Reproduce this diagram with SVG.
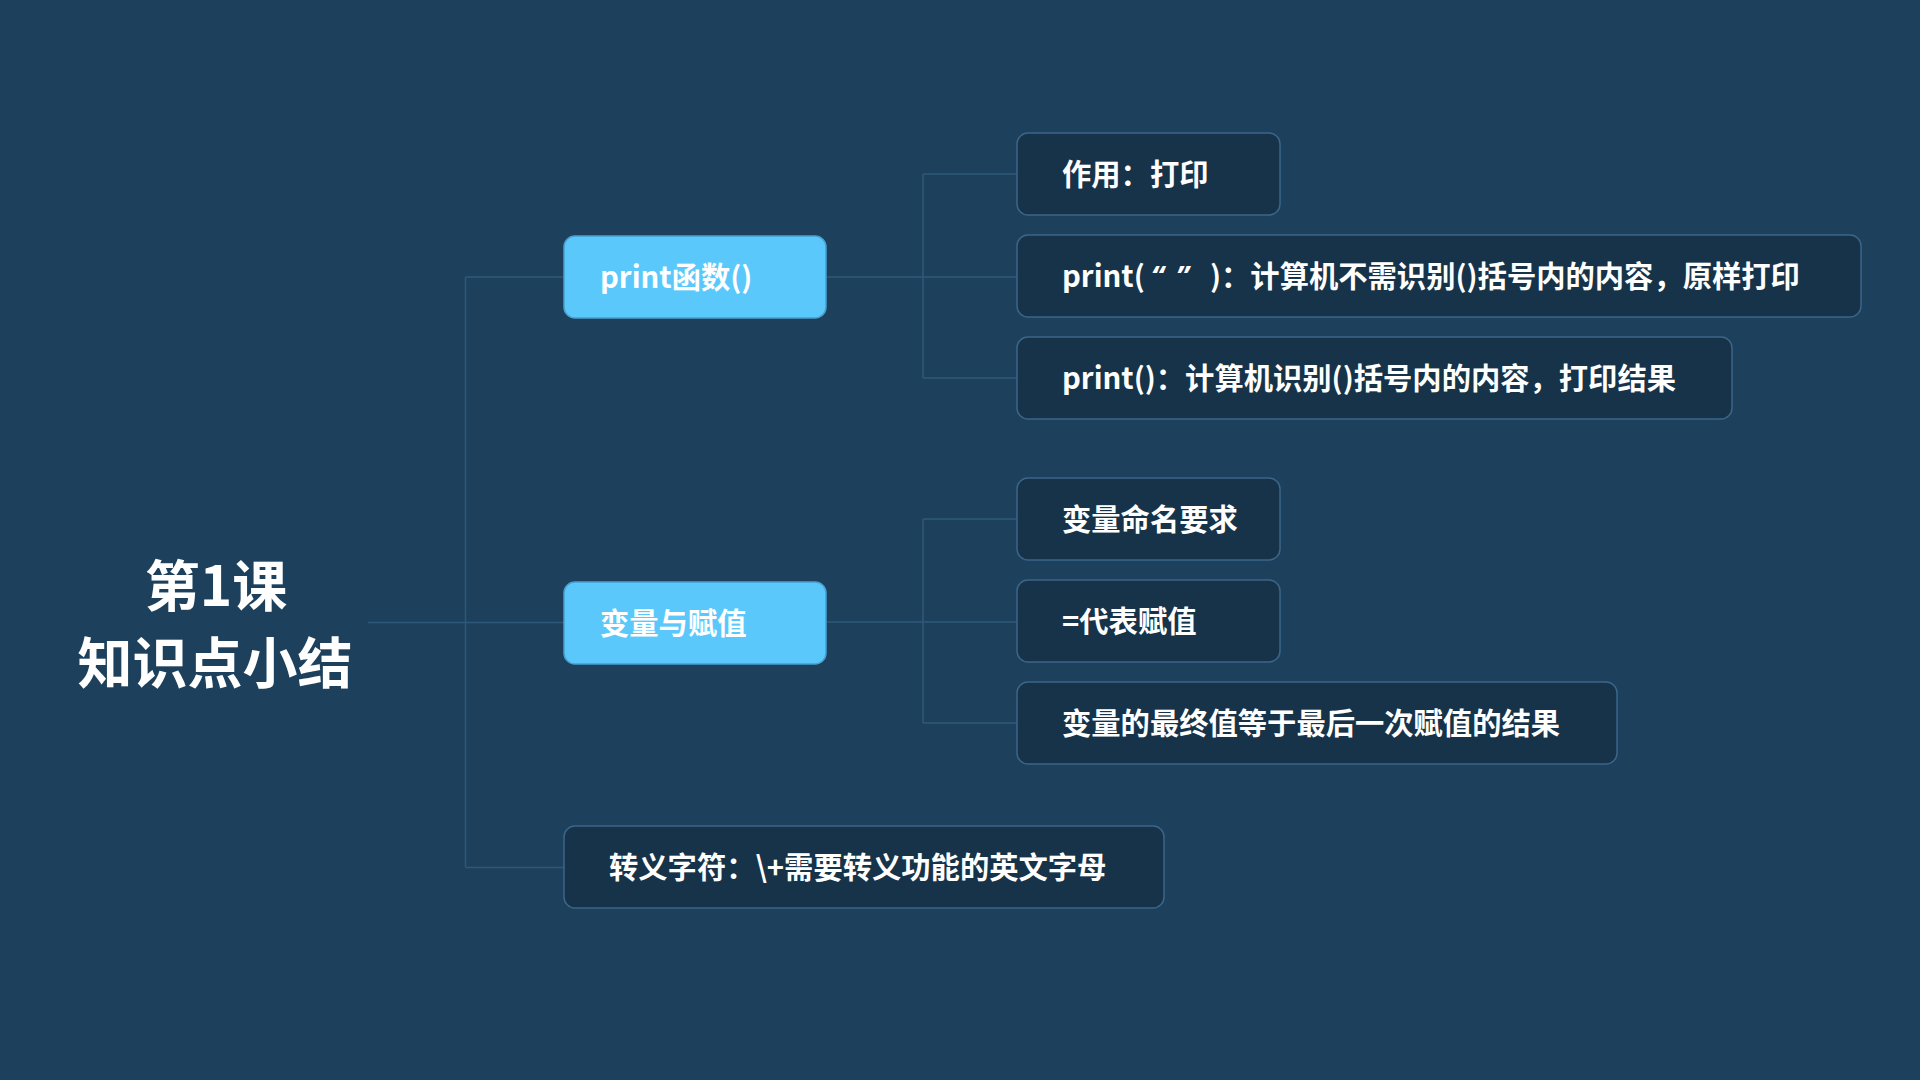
<svg xmlns="http://www.w3.org/2000/svg" width="1920" height="1080" viewBox="0 0 1920 1080">
<style>
.bg{fill:#1d415c}
.main{fill:#5bc8fb;stroke:#4a9fd0;stroke-width:1.5}
.sub{fill:#163349;stroke:#3b6589;stroke-width:1.5}
.t{font-family:"Noto Sans CJK SC","Microsoft YaHei",sans-serif;font-weight:700;font-size:29.3px;fill:#ffffff}
.q{font-family:"Noto Sans","Noto Sans CJK SC",sans-serif;font-style:italic}
.title{font-family:"Noto Sans CJK SC","Microsoft YaHei",sans-serif;font-weight:700;font-size:55px;fill:#ffffff;text-anchor:middle}
.ln{fill:none;stroke:#2f5878;stroke-width:1.5}
</style>
<rect class="bg" x="0" y="0" width="1920" height="1080"/>
<g id="connectors">
<path class="ln" d="M368 622.5 H564"/>
<path class="ln" d="M465.5 277 V867.5"/>
<path class="ln" d="M465.5 277 H564"/>
<path class="ln" d="M465.5 867.5 H564"/>
<path class="ln" d="M826 277 H1017"/>
<path class="ln" d="M923 174 V378"/>
<path class="ln" d="M923 174 H1017"/>
<path class="ln" d="M923 378 H1017"/>
<path class="ln" d="M826 622 H1017"/>
<path class="ln" d="M923 519 V723"/>
<path class="ln" d="M923 519 H1017"/>
<path class="ln" d="M923 723 H1017"/>
</g>
<g id="root">
<text class="title" x="216" y="606">第1课</text>
<text class="title" x="215" y="683">知识点小结</text>
</g>
<g id="n-print">
<rect class="main" x="564" y="236" width="262" height="82" rx="11"/>
<text class="t" x="600" y="288">print函数()</text>
</g>
<g id="n-print-1">
<rect class="sub" x="1017" y="133" width="263" height="82" rx="11"/>
<text class="t" x="1062" y="185">作用：打印</text>
</g>
<g id="n-print-2">
<rect class="sub" x="1017" y="235" width="844" height="82" rx="11"/>
<text class="t" x="1062" y="287">print(<tspan class="q" x="1151">“</tspan><tspan class="q" x="1176">”</tspan><tspan x="1210">)：计算机不需识别()括号内的内容，原样打印</tspan></text>
</g>
<g id="n-print-3">
<rect class="sub" x="1017" y="337" width="715" height="82" rx="11"/>
<text class="t" x="1062" y="389">print()：计算机识别()括号内的内容，打印结果</text>
</g>
<g id="n-var">
<rect class="main" x="564" y="582" width="262" height="82" rx="11"/>
<text class="t" x="600" y="634">变量与赋值</text>
</g>
<g id="n-var-1">
<rect class="sub" x="1017" y="478" width="263" height="82" rx="11"/>
<text class="t" x="1062" y="530">变量命名要求</text>
</g>
<g id="n-var-2">
<rect class="sub" x="1017" y="580" width="263" height="82" rx="11"/>
<text class="t" x="1062" y="632">=代表赋值</text>
</g>
<g id="n-var-3">
<rect class="sub" x="1017" y="682" width="600" height="82" rx="11"/>
<text class="t" x="1062" y="734">变量的最终值等于最后一次赋值的结果</text>
</g>
<g id="n-escape">
<rect class="sub" x="564" y="826" width="600" height="82" rx="11"/>
<text class="t" x="609" y="878">转义字符：\+需要转义功能的英文字母</text>
</g>
</svg>
